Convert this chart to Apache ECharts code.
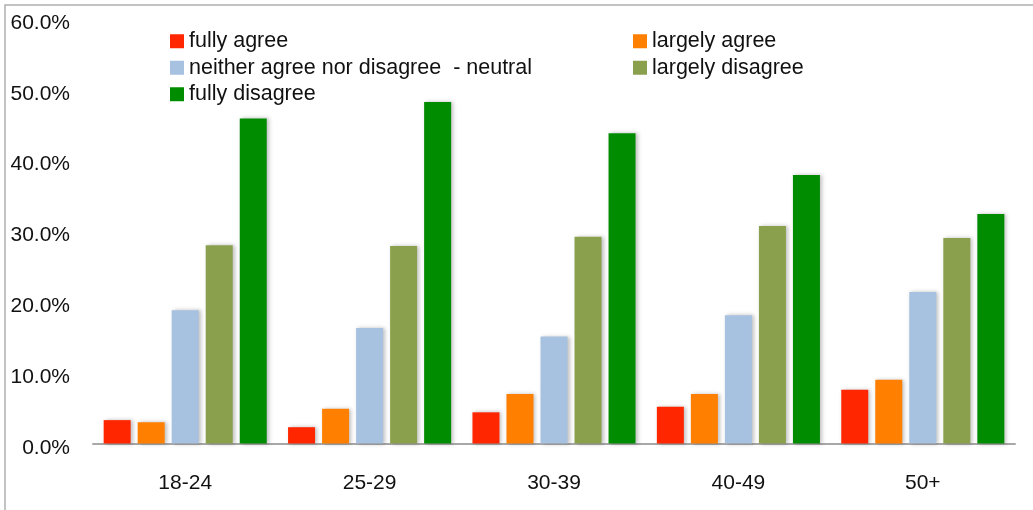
<!DOCTYPE html>
<html>
<head>
<meta charset="utf-8">
<script src="https://cdn.jsdelivr.net/npm/echarts@6/dist/echarts.min.js"></script>
<style>
  html, body { margin: 0; padding: 0; background: #fff; }
  #chart { width: 1033px; height: 510px; }
</style>
</head>
<body>
<div id="chart"></div>
<script>
// age groups on the x axis
const ageGroups = ['18-24', '25-29', '30-39', '40-49', '50+'];

// answer shares, in percent
const fullyAgree      = [3.3, 2.3, 4.4, 5.2, 7.6];
const largelyAgree    = [3.0, 4.9, 7.0, 7.0, 9.0];
const neutral         = [18.8, 16.3, 15.1, 18.1, 21.4];
const largelyDisagree = [28.0, 27.9, 29.2, 30.7, 29.0];
const fullyDisagree   = [45.9, 48.2, 43.8, 37.9, 32.4];

const seriesNames = [
    'fully agree',
    'largely agree',
    'neither agree nor disagree  - neutral',
    'largely disagree',
    'fully disagree'
];
const COLORS = ['#ff2600', '#ff7f00', '#a7c1e0', '#8aa04c', '#008c00'];

const FONT = '"Liberation Sans", Arial, sans-serif';

function makeBar(name, data) {
    return {
        name: name,
        type: 'bar',
        data: data,
        barWidth: 27,
        barGap: '26%',
        itemStyle: {
            shadowColor: 'rgba(0,0,0,0.25)',
            shadowBlur: 4,
            shadowOffsetX: 2,
            shadowOffsetY: 0
        }
    };
}

const legendText = {
    color: '#111',
    fontSize: 21.5,
    fontFamily: FONT,
    lineHeight: 26.5
};

const option = {
    color: COLORS,
    animation: false,
    graphic: [
        {
            type: 'rect',
            shape: { x: 5, y: 5, width: 1200, height: 700 },
            style: { fill: 'none', stroke: '#b0b0b0', lineWidth: 1.5 },
            silent: true
        }
    ],
    legend: [
        {
            orient: 'vertical',
            left: 165,
            top: 23,
            itemWidth: 14,
            itemHeight: 14,
            itemGap: 0,
            icon: 'rect',
            data: [seriesNames[0], seriesNames[2], seriesNames[4]],
            textStyle: legendText
        },
        {
            orient: 'vertical',
            left: 628,
            top: 23,
            itemWidth: 14,
            itemHeight: 14,
            itemGap: 0,
            icon: 'rect',
            data: [seriesNames[1], seriesNames[3]],
            textStyle: legendText
        }
    ],
    grid: {
        left: 93,
        right: 18,
        top: 18.5,
        bottom: 66.5
    },
    xAxis: {
        type: 'category',
        data: ageGroups,
        axisLine: { lineStyle: { color: '#a8a8a8', width: 2 } },
        axisTick: { show: false },
        axisLabel: {
            color: '#111',
            fontSize: 21,
            fontFamily: FONT,
            margin: 29
        }
    },
    yAxis: {
        type: 'value',
        min: 0,
        max: 60,
        interval: 10,
        axisLine: { show: false },
        axisTick: { show: false },
        splitLine: { show: false },
        axisLabel: {
            color: '#111',
            fontSize: 21,
            fontFamily: FONT,
            margin: 23,
            verticalAlign: 'top',
            padding: [-6, 0, 0, 0],
            formatter: v => v.toFixed(1) + '%'
        }
    },
    series: [
        makeBar(seriesNames[0], fullyAgree),
        makeBar(seriesNames[1], largelyAgree),
        makeBar(seriesNames[2], neutral),
        makeBar(seriesNames[3], largelyDisagree),
        makeBar(seriesNames[4], fullyDisagree)
    ]
};

const chart = echarts.init(document.getElementById('chart'));
chart.setOption(option);
</script>
</body>
</html>
